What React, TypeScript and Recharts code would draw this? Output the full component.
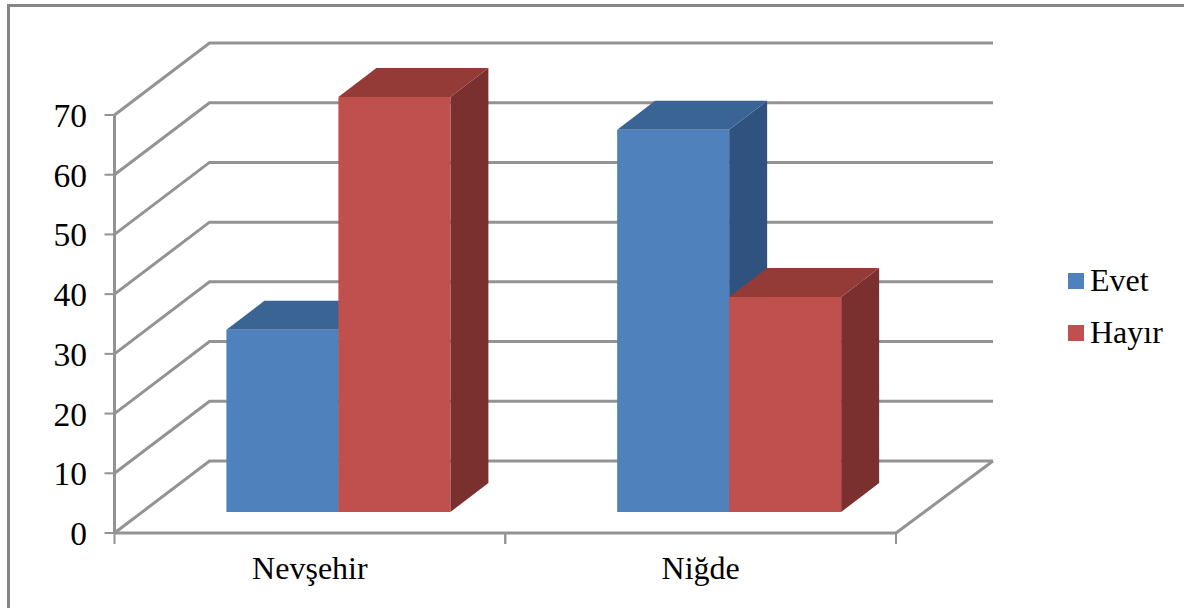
import React from 'react';
import { BarChart, Bar, XAxis, YAxis, CartesianGrid, Legend } from 'recharts';

const CATEGORIES = ['Nevşehir', 'Niğde'];
const EVET_VALUES = [30.5, 64];
const HAYIR_VALUES = [69.5, 36];
const Y_TICKS = [0, 10, 20, 30, 40, 50, 60, 70];

const chartData = CATEGORIES.map((name, i) => ({
  name,
  Evet: EVET_VALUES[i],
  Hayir: HAYIR_VALUES[i],
}));

const FONT = '"Liberation Serif", serif';
const FONT_SIZE = 32;
const AXIS_GREY = '#939393';

// depth of the floor and of the back wall
const WALL_DX = 95;
const WALL_DY = 72;
const BAR_SHIFT_X = 28.5;
const BAR_SHIFT_Y = 21;
const BAR_DEPTH_X = 38;
const BAR_DEPTH_Y = 29;
const BAND_WIDTH = 390.75;

const BLUE = { front: '#4f81bd', top: '#3a6494', side: '#30527e' };
const RED = { front: '#c0504d', top: '#943a37', side: '#7a302e' };

const Box3D = (colors: typeof BLUE) => (props: any) => {
  const x = props.x + BAR_SHIFT_X;
  const y = props.y - BAR_SHIFT_Y;
  const { width: w, height: h } = props;
  const dx = BAR_DEPTH_X;
  const dy = BAR_DEPTH_Y;
  return (
    <g>
      <polygon
        points={`${x + w},${y} ${x + w + dx},${y - dy} ${x + w + dx},${y + h - dy} ${x + w},${y + h}`}
        fill={colors.side}
      />
      <polygon
        points={`${x},${y} ${x + dx},${y - dy} ${x + w + dx},${y - dy} ${x + w},${y}`}
        fill={colors.top}
      />
      <rect x={x} y={y} width={w} height={h} fill={colors.front} />
    </g>
  );
};

// each horizontal grid line is folded into side wall + back wall
const WallLine = (props: any) => {
  const { x1, y1, x2 } = props;
  const isFloor = Math.abs(y1 - 533) < 1;
  return (
    <g key={props.key}>
      <polyline
        points={`${x1},${y1} ${x1 + WALL_DX},${y1 - WALL_DY} ${x2 + 97},${y1 - WALL_DY}`}
        fill="none"
        stroke={AXIS_GREY}
        strokeWidth={3}
      />
      {isFloor && (
        <line x1={x2} y1={y1} x2={x2 + 97} y2={y1 - WALL_DY} stroke={AXIS_GREY} strokeWidth={3} />
      )}
    </g>
  );
};

const CategoryTick = (props: any) => {
  const { x, y, payload } = props;
  const half = BAND_WIDTH / 2;
  return (
    <g>
      <line x1={x - half} y1={533} x2={x - half} y2={544} stroke={AXIS_GREY} strokeWidth={2} />
      <line x1={x + half} y1={533} x2={x + half} y2={544} stroke={AXIS_GREY} strokeWidth={2} />
      <text x={x} y={y + 38} textAnchor="middle" fontFamily={FONT} fontSize={FONT_SIZE} fill="#000">
        {payload.value}
      </text>
    </g>
  );
};

const ValueTick = (props: any) => {
  const { y, payload } = props;
  return (
    <text x={87} y={y + 12} textAnchor="end" fontFamily={FONT} fontSize={33.5} fill="#000">
      {payload.value}
    </text>
  );
};

const LegendBox = () => (
  <div style={{ width: 116, fontFamily: FONT, fontSize: FONT_SIZE, color: '#000' }}>
    {[
      { label: 'Evet', color: BLUE.front },
      { label: 'Hayır', color: RED.front },
    ].map(item => (
      <div key={item.label} style={{ display: 'flex', alignItems: 'center', height: 52, lineHeight: '52px' }}>
        <span style={{ width: 16, height: 16, background: item.color, marginRight: 6 }} />
        <span style={{ position: 'relative', top: -1 }}>{item.label}</span>
      </div>
    ))}
  </div>
);

export default function App() {
  return (
    <div
      style={{
        position: 'absolute',
        left: 0,
        top: 0,
        width: 1184,
        height: 608,
        background: '#fff',
        overflow: 'hidden',
      }}
    >
      {/* frame only shows along the top and left edges */}
      <div style={{ position: 'absolute', left: 7, top: 4, right: 0, height: 2.5, background: '#868686' }} />
      <div style={{ position: 'absolute', left: 7, top: 4, bottom: 0, width: 2.5, background: '#868686' }} />
      <BarChart
        width={1184}
        height={608}
        data={chartData}
        barGap={0}
        barCategoryGap={83.4}
        margin={{ top: 115, right: 172, bottom: 0, left: 0 }}
      >
        <CartesianGrid vertical={false} horizontal={WallLine} />
        <XAxis
          dataKey="name"
          height={75}
          tick={CategoryTick}
          tickLine={false}
          axisLine={{ stroke: AXIS_GREY, strokeWidth: 3 }}
          interval={0}
        />
        <YAxis
          width={114.5}
          domain={[0, 70]}
          ticks={Y_TICKS}
          interval={0}
          tick={ValueTick}
          tickSize={10}
          tickLine={{ stroke: AXIS_GREY, strokeWidth: 2 }}
          axisLine={{ stroke: AXIS_GREY, strokeWidth: 3 }}
        />
        <Legend
          content={LegendBox}
          layout="vertical"
          align="right"
          verticalAlign="top"
          wrapperStyle={{ left: 1068, top: 255, right: 'auto', bottom: 'auto', width: 116 }}
        />
        <Bar dataKey="Evet" isAnimationActive={false} shape={Box3D(BLUE)} />
        <Bar dataKey="Hayir" name="Hayır" isAnimationActive={false} shape={Box3D(RED)} />
      </BarChart>
    </div>
  );
}
